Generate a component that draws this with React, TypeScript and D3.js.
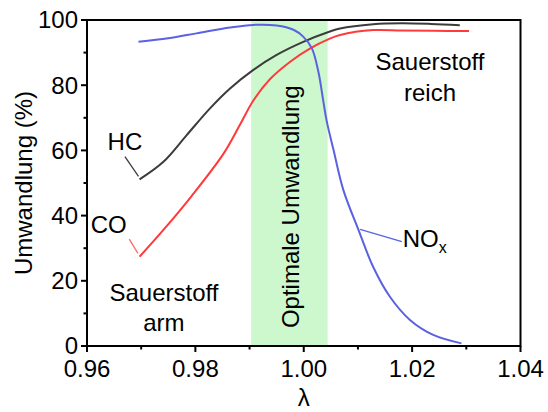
import React from "react";
import * as d3 from "d3";

const xTicks = [0.96, 0.98, 1.0, 1.02, 1.04];
const xTickLabels = ["0.96", "0.98", "1.00", "1.02", "1.04"];
const xMinorTicks = [0.97, 0.99, 1.01, 1.03];
const yTicks = [0, 20, 40, 60, 80, 100];
const yMinorTicks = [10, 30, 50, 70, 90];

const bandRange = [0.9903, 1.0044];

const noxX = [0.9695, 0.975, 0.9802, 0.9864, 0.9907, 0.995, 0.9981, 0.9999, 1.0015, 1.0027, 1.0036, 1.0042, 1.0055, 1.0073, 1.0101, 1.0128, 1.0159, 1.0196, 1.0239, 1.0291];
const noxY = [93.3, 94.4, 95.9, 97.7, 98.5, 98.3, 97.0, 94.9, 91.3, 84.1, 75.2, 69.3, 60.1, 47.9, 35.6, 24.3, 15.1, 8.0, 3.4, 0.8];

const hcX = [0.9697, 0.9741, 0.9784, 0.9827, 0.9864, 0.9907, 0.995, 0.9999, 1.0047, 1.0067, 1.0128, 1.018, 1.0235, 1.0288];
const hcY = [51.1, 56.5, 64.7, 72.9, 79.0, 84.7, 89.3, 93.3, 96.4, 97.4, 98.7, 99.0, 98.8, 98.4];

const coX = [0.9697, 0.9741, 0.9793, 0.9852, 0.9882, 0.9907, 0.9938, 0.9975, 1.0012, 1.0047, 1.0067, 1.0128, 1.018, 1.024, 1.0305];
const coY = [27.4, 35.6, 46.0, 59.0, 67.8, 75.3, 81.9, 87.2, 91.3, 94.2, 95.4, 96.9, 96.8, 96.7, 96.6];

const W = 548;
const H = 412;
const M = { left: 87, right: 520.5, top: 20, bottom: 346 };
const FONT = "'Liberation Sans', Arial, sans-serif";

export default function App() {
  const x = d3.scaleLinear().domain([0.96, 1.04]).range([M.left, M.right]);
  const y = d3.scaleLinear().domain([0, 100]).range([M.bottom, M.top]);
  const line = d3
    .line<[number, number]>()
    .x((d) => x(d[0]))
    .y((d) => y(d[1]))
    .curve(d3.curveCatmullRom.alpha(0.5));
  const zip = (a: number[], b: number[]) => a.map((v, i) => [v, b[i]] as [number, number]);

  const series = [
    { xs: hcX, ys: hcY, color: "#3c3c3c" },
    { xs: coX, ys: coY, color: "#ff3a3a" },
    { xs: noxX, ys: noxY, color: "#5a62e2" },
  ];

  return (
    <svg
      width={W}
      height={H}
      style={{ position: "fixed", left: 0, top: 0, background: "#fff" }}
      fontFamily={FONT}
    >
      <rect x={0} y={0} width={W} height={H} fill="#fff" />
      <rect
        x={x(bandRange[0])}
        y={M.top}
        width={x(bandRange[1]) - x(bandRange[0])}
        height={M.bottom - M.top}
        fill="#cdf7cd"
      />
      {series.map((s, i) => (
        <path key={i} d={line(zip(s.xs, s.ys)) || ""} fill="none" stroke={s.color} strokeWidth={2} />
      ))}

      {/* leader lines */}
      <line x1={x(0.967)} y1={y(58.1)} x2={x(0.9695)} y2={y(52.0)} stroke="#3c3c3c" strokeWidth={1.3} />
      <line x1={x(0.9678)} y1={y(32.8)} x2={x(0.9694)} y2={y(28.4)} stroke="#ff6a6a" strokeWidth={1.3} />
      <line x1={x(1.0104)} y1={y(35.8)} x2={x(1.0181)} y2={y(32.0)} stroke="#5a62e2" strokeWidth={1.3} />

      {/* labels */}
      <text x={x(0.9638)} y={y(60.1)} fontSize={24} fill="#000">HC</text>
      <text x={x(0.9607)} y={y(34.8)} fontSize={24} fill="#000">CO</text>
      <text x={x(1.01826)} y={y(30.3)} fontSize={24} fill="#000">
        NO<tspan fontSize={16} dy={6}>x</tspan>
      </text>
      <text x={x(1.0233)} y={y(84.7)} fontSize={24} textAnchor="middle">Sauerstoff</text>
      <text x={x(1.0233)} y={y(75.2)} fontSize={24} textAnchor="middle">reich</text>
      <text x={x(0.9742)} y={y(13.9)} fontSize={24} textAnchor="middle">Sauerstoff</text>
      <text x={x(0.9742)} y={y(4.7)} fontSize={24} textAnchor="middle">arm</text>
      <text transform={`translate(299,206.7) rotate(-90)`} fontSize={24} textAnchor="middle">
        Optimale Umwandlung
      </text>

      {/* frame */}
      <rect
        x={M.left}
        y={M.top}
        width={M.right - M.left}
        height={M.bottom - M.top}
        fill="none"
        stroke="#000"
        strokeWidth={2}
      />

      {/* x ticks */}
      {xTicks.map((t, i) => (
        <g key={"xt" + i}>
          <line x1={x(t)} x2={x(t)} y1={M.bottom} y2={M.bottom + 6} stroke="#000" strokeWidth={2} />
          <text x={x(t)} y={377} fontSize={24} textAnchor="middle">{xTickLabels[i]}</text>
        </g>
      ))}
      {xMinorTicks.map((t, i) => (
        <line key={"xm" + i} x1={x(t)} x2={x(t)} y1={M.bottom} y2={M.bottom + 3.5} stroke="#000" strokeWidth={2} />
      ))}
      {yTicks.map((t, i) => (
        <g key={"yt" + i}>
          <line x1={M.left - 6} x2={M.left} y1={y(t)} y2={y(t)} stroke="#000" strokeWidth={2} />
          <text x={78} y={y(t)} dy="0.35em" fontSize={24} textAnchor="end">{t}</text>
        </g>
      ))}
      {yMinorTicks.map((t, i) => (
        <line key={"ym" + i} x1={M.left - 3.5} x2={M.left} y1={y(t)} y2={y(t)} stroke="#000" strokeWidth={2} />
      ))}

      {/* axis titles */}
      <text transform={`translate(32,${(M.top + M.bottom) / 2}) rotate(-90)`} fontSize={24} textAnchor="middle">
        Umwandlung (%)
      </text>
      <text x={x(1.0)} y={406} fontSize={24} textAnchor="middle">λ</text>
    </svg>
  );
}
